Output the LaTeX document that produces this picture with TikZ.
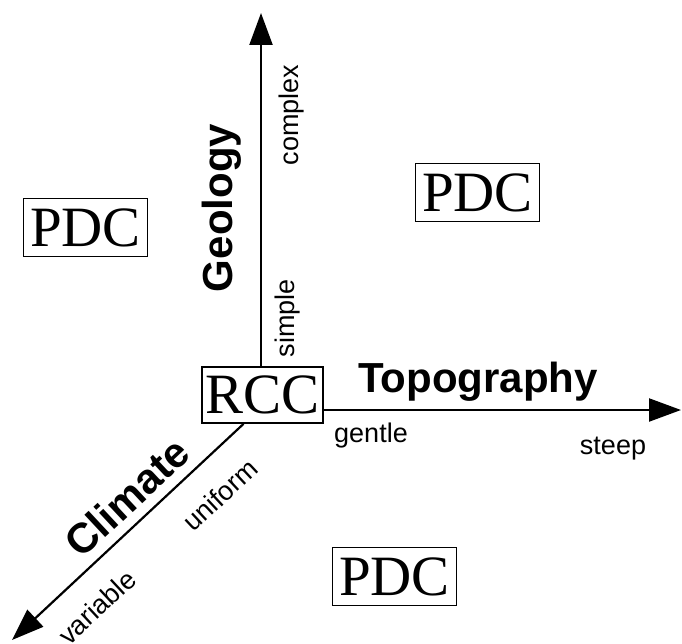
\documentclass[tikz,border=0pt]{standalone}
\usepackage{fontspec}
\setmainfont{Liberation Serif}
\newfontfamily\lsans{Liberation Sans}
\usetikzlibrary{arrows.meta}
\begin{document}
\begin{tikzpicture}[x=1pt,y=-1pt,
  box/.style={draw,line width=1.8pt,inner sep=0pt,minimum width=124pt,minimum height=58pt,font=\fontsize{57}{57}\selectfont},
  axis/.style={line width=2.2pt,-{Triangle[length=32pt,width=23pt]}},
  big/.style={font=\lsans\bfseries\fontsize{42}{42}\selectfont,inner sep=0pt},
  small/.style={font=\lsans\fontsize{27}{27}\selectfont,inner sep=0pt}]
\useasboundingbox (0,0) rectangle (682,644);
\node[box,minimum width=121pt,minimum height=56pt] (RCC) at (262.5,395) {RCC};
\node[box] (PDCl) at (85.5,227.5) {PDC};
\node[box] (PDCr) at (477.5,192.5) {PDC};
\node[box] (PDCb) at (394.5,576.5) {PDC};
\coordinate (gtip) at (261,13);
\coordinate (ttip) at (681,410);
\coordinate (ctip) at (12,640);
\draw[axis] (RCC.north -| gtip) -- (gtip);
\draw[axis] (RCC.east |- ttip) -- (ttip);
\draw[axis] ([xshift=-19pt]RCC.south) -- (ctip);
\node[big,rotate=90] (geo) at (222,208) {Geology};
\node[small,rotate=90] (cplx) at (292,115) {complex};
\node[small,rotate=90] (smpl) at (288,318) {simple};
\node[big] (topo) at (478,382) {Topography};
\node[small] (gentle) at (371,436) {gentle};
\node[small] (steep) at (613,449) {steep};
\node[big,rotate=43] (clim) at (127,497) {Climate};
\node[small,rotate=43] (unif) at (220,495) {uniform};
\node[small,rotate=43] (var) at (97,607) {variable};
\end{tikzpicture}
\end{document}
